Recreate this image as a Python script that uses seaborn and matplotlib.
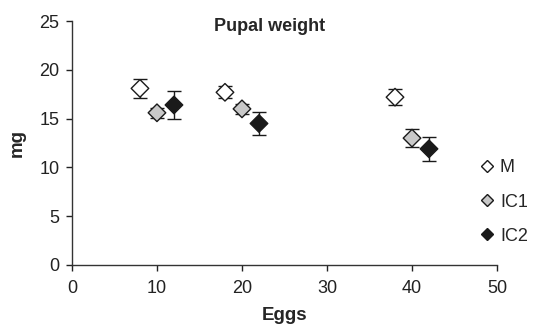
import pandas as pd
import seaborn as sns
import matplotlib.pyplot as plt
from matplotlib.lines import Line2D

# values
groups = ['M', 'IC1', 'IC2']
eggs_M = [8, 18, 38]
eggs_IC1 = [10, 20, 40]
eggs_IC2 = [12, 22, 42]
weight_M = [18.1, 17.7, 17.2]
weight_IC1 = [15.6, 16.0, 13.0]
weight_IC2 = [16.4, 14.5, 11.9]
err_M = [1.0, 0.6, 0.85]
err_IC1 = [0.5, 0.5, 0.95]
err_IC2 = [1.4, 1.2, 1.25]

colours = {'M': 'white', 'IC1': '#c8c8c8', 'IC2': '#1a1a1a'}

df = pd.DataFrame({
    'Eggs': eggs_M + eggs_IC1 + eggs_IC2,
    'mg': weight_M + weight_IC1 + weight_IC2,
    'err': err_M + err_IC1 + err_IC2,
    'group': ['M'] * 3 + ['IC1'] * 3 + ['IC2'] * 3,
})

sns.set_style('ticks')
plt.rcParams['font.family'] = ['Liberation Sans', 'DejaVu Sans']

fig = plt.figure(figsize=(5.33, 3.25), dpi=100)
ax = fig.add_axes([0.135, 0.185, 0.7975, 0.75])

for g in groups:
    sub = df[df['group'] == g]
    ax.errorbar(sub['Eggs'], sub['mg'], yerr=sub['err'], fmt='none',
                ecolor='#1a1a1a', elinewidth=1, capsize=5, capthick=1, zorder=2)

sns.scatterplot(data=df, x='Eggs', y='mg', hue='group', palette=colours,
                marker='D', s=80, edgecolor='#1a1a1a', linewidth=1,
                legend=False, ax=ax, zorder=3)

ax.set_xlim(0, 50)
ax.set_ylim(0, 25)
ax.set_xticks(range(0, 51, 10))
ax.set_yticks(range(0, 26, 5))
ax.tick_params(labelsize=13, colors='#222222', length=4, width=1, pad=5)
ax.tick_params(axis='x', pad=7)
for sp in ['left', 'bottom']:
    ax.spines[sp].set_color('#333333')
    ax.spines[sp].set_linewidth(1)
sns.despine(ax=ax)

ax.set_xlabel('Eggs', fontsize=13.5, fontweight='bold', labelpad=7)
ax.set_ylabel('mg', fontsize=13.5, fontweight='bold', labelpad=10)
ax.set_title('Pupal weight', fontsize=13, fontweight='bold', y=0.925, x=0.465)

handles = [Line2D([], [], marker='D', linestyle='none', markersize=6.5,
                  markerfacecolor=colours[g], markeredgecolor='#1a1a1a',
                  markeredgewidth=1) for g in groups]
fig.legend(handles, groups, loc='center left', bbox_to_anchor=(0.9, 0.378),
           frameon=False, fontsize=13, handletextpad=0.32, labelspacing=0.95,
           handlelength=0.8, borderpad=0, borderaxespad=0)

fig.savefig('out.png', dpi=100)
